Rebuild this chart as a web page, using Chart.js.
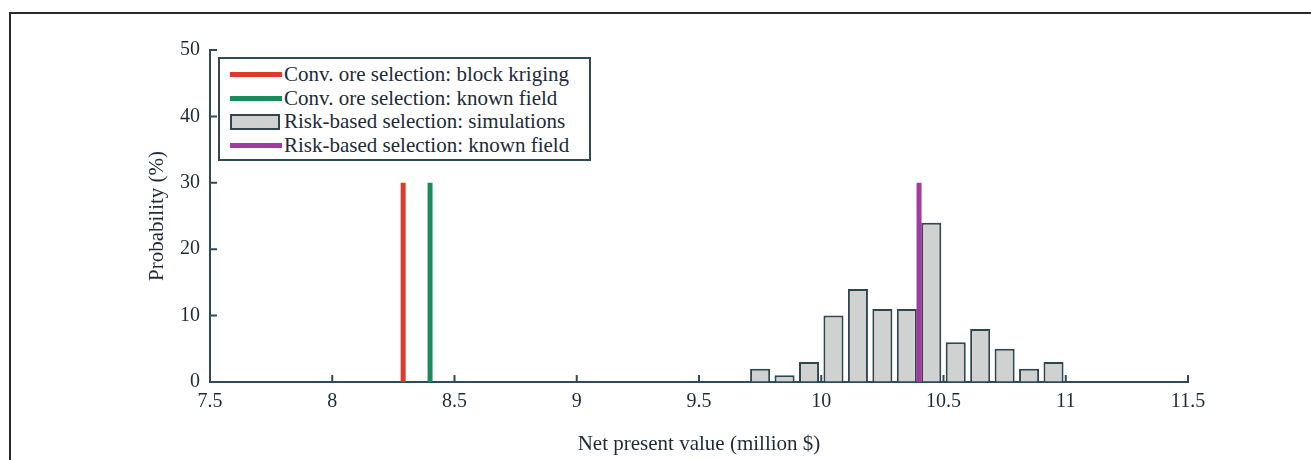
<!DOCTYPE html>
<html>
<head>
<meta charset="utf-8">
<script src="https://cdn.jsdelivr.net/npm/chart.js@4/dist/chart.umd.min.js"></script>
<style>
  html, body { margin: 0; padding: 0; background: #fff; }
  #wrap { position: relative; width: 1311px; height: 460px; overflow: hidden; }
  #frame { position: absolute; left: 9px; top: 12px; width: 1400px; height: 600px;
           border-left: 2px solid #2a2a2a; border-top: 2px solid #2a2a2a; }
  canvas { position: absolute; left: 0; top: 0; }
  #legend { position: absolute; left: 218px; top: 57px; width: 369px; height: 100px;
            border: 2px solid #2f4a55; background: #fff;
            font-family: 'Liberation Serif', 'Times New Roman', serif; font-size: 21px; color: #1c2b38; }
  .item { position: absolute; left: 8px; height: 23px; line-height: 23px; white-space: nowrap; }
  .sw { position: absolute; left: 2px; width: 52px; }
  .txt { position: absolute; left: 56px; top: 0; }
</style>
</head>
<body>
<div id="wrap">
  <div id="frame"></div>
  <canvas id="c" width="1311" height="460"></canvas>
  <div id="legend"></div>
</div>
<script>
// ---- data ----
const binCenters = [9.75, 9.85, 9.95, 10.05, 10.15, 10.25, 10.35, 10.45, 10.55, 10.65, 10.75, 10.85, 10.95];
const simProbabilities = [2, 1, 3, 10, 14, 11, 11, 24, 6, 8, 5, 2, 3];
const krigingNPV = 8.29;
const convKnownNPV = 8.40;
const riskKnownNPV = 10.40;
const markerHeight = [0, 30];
const seriesLabels = [
  'Conv. ore selection: block kriging',
  'Conv. ore selection: known field',
  'Risk-based selection: simulations',
  'Risk-based selection: known field'
];
const xRange = [7.5, 11.5];
const xStep = 0.5;
const yRange = [0, 50];
const yStep = 10;
const xTitle = 'Net present value (million $)';
const yTitle = 'Probability (%)';

// ---- styles ----
const RED = '#e0392b', GREEN = '#1b8a5c', PURPLE = '#a23aa4';
const BAR_FILL = '#d0d1d1', BAR_EDGE = '#2f4650', AXIS = '#2f4a5a', TEXT = '#1c2b38';
const FONT = "'Liberation Serif', 'Times New Roman', serif";

function vline(x) { return markerHeight.map(y => ({ x: x, y: y })); }

const lineStyle = { type: 'line', borderWidth: 5, pointRadius: 0, borderCapStyle: 'butt', order: 1, fill: false };

const inwardTicks = {
  id: 'inwardTicks',
  afterDraw(chart) {
    const ctx = chart.ctx, xs = chart.scales.x, ys = chart.scales.y;
    const a = chart.chartArea, L = 7;
    ctx.save();
    ctx.strokeStyle = AXIS; ctx.lineWidth = 2;
    ctx.beginPath();
    ys.ticks.forEach(t => {
      const p = ys.getPixelForValue(t.value);
      ctx.moveTo(a.left, p); ctx.lineTo(a.left + L, p);
    });
    xs.ticks.forEach(t => {
      const p = xs.getPixelForValue(t.value);
      ctx.moveTo(p, a.bottom); ctx.lineTo(p, a.bottom - L);
    });
    ctx.stroke();
    ctx.restore();
  }
};

new Chart(document.getElementById('c'), {
  type: 'bar',
  data: {
    datasets: [
      Object.assign({ label: seriesLabels[0], data: vline(krigingNPV), borderColor: RED }, lineStyle),
      Object.assign({ label: seriesLabels[1], data: vline(convKnownNPV), borderColor: GREEN }, lineStyle),
      {
        type: 'bar', label: seriesLabels[2], order: 2,
        data: binCenters.map((x, i) => ({ x: x, y: simProbabilities[i] })),
        backgroundColor: BAR_FILL, borderColor: BAR_EDGE, borderWidth: 2,
        barPercentage: 0.82, categoryPercentage: 1.0
      },
      Object.assign({ label: seriesLabels[3], data: vline(riskKnownNPV), borderColor: PURPLE }, lineStyle)
    ]
  },
  options: {
    responsive: false,
    animation: false,
    layout: { padding: { left: 0, top: 50, right: 123, bottom: 0 } },
    plugins: { legend: { display: false }, tooltip: { enabled: false } },
    scales: {
      x: {
        type: 'linear', min: xRange[0], max: xRange[1], offset: false,
        ticks: { stepSize: xStep, color: TEXT, font: { family: FONT, size: 20 }, padding: 8, maxRotation: 0,
                 callback: v => String(Number(v.toFixed(2))) },
        grid: { display: true, offset: false, drawOnChartArea: false, drawTicks: false, color: 'rgba(0,0,0,0)' },
        border: { display: true, color: AXIS, width: 2 },
        title: { display: true, text: xTitle, color: TEXT, font: { family: FONT, size: 21 }, padding: { top: 0, bottom: 3 } },
        afterFit(s) { s.height = 78; }
      },
      y: {
        min: yRange[0], max: yRange[1],
        ticks: { stepSize: yStep, color: TEXT, font: { family: FONT, size: 20 }, padding: 10 },
        grid: { display: true, drawOnChartArea: false, drawTicks: false, color: 'rgba(0,0,0,0)' },
        border: { display: true, color: AXIS, width: 2 },
        title: { display: true, text: yTitle, color: TEXT, font: { family: FONT, size: 21 }, padding: { top: 145, bottom: 0 } },
        afterFit(s) { s.width = 210; }
      }
    }
  },
  plugins: [inwardTicks]
});

// ---- HTML legend ----
const legendColors = [RED, GREEN, null, PURPLE];
const lg = document.getElementById('legend');
seriesLabels.forEach((lab, i) => {
  const it = document.createElement('div');
  it.className = 'item';
  it.style.top = (4 + i * 23.5) + 'px';
  const sw = document.createElement('div');
  sw.className = 'sw';
  if (legendColors[i]) {
    sw.style.top = '9px'; sw.style.height = '5px'; sw.style.background = legendColors[i];
  } else {
    sw.style.top = '4px'; sw.style.height = '12px'; sw.style.width = '46px';
    sw.style.background = BAR_FILL; sw.style.border = '2px solid ' + BAR_EDGE;
  }
  const tx = document.createElement('span');
  tx.className = 'txt'; tx.textContent = lab;
  it.appendChild(sw); it.appendChild(tx);
  lg.appendChild(it);
});
</script>
</body>
</html>
